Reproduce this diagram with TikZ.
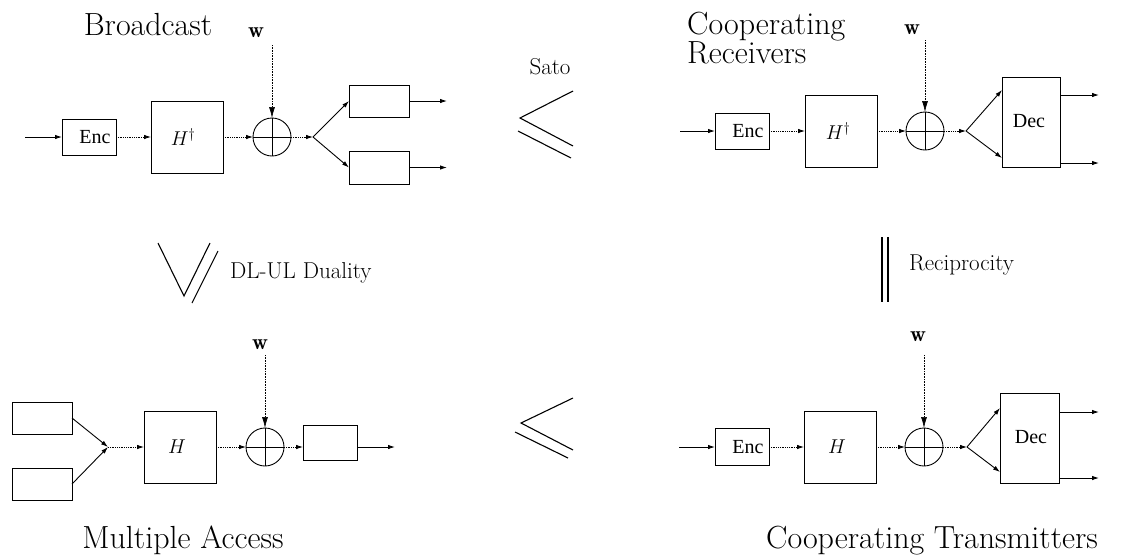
\RequirePackage{fix-cm}
\documentclass[tikz,border=0pt]{standalone}
\usepackage{fontspec}
\newfontfamily\timesf{Liberation Serif}
\usetikzlibrary{arrows.meta}
\begin{document}
\begin{tikzpicture}[x=1pt,y=-1pt,
  blk/.style={draw, line width=0.9pt, inner sep=0pt, outer sep=0pt},
  sumc/.style={draw, circle, line width=0.9pt, minimum size=38pt, inner sep=0pt, outer sep=0pt},
  sarr/.style={line width=0.9pt, -{Latex[length=7pt,width=4.5pt]}},
  darr/.style={line width=0.8pt, densely dotted, -{Latex[length=7pt,width=4.5pt]}},
  warr/.style={line width=0.6pt, densely dotted, -{Latex[length=11pt,width=6pt]}},
  title/.style={font=\fontsize{32}{26}\selectfont, inner sep=0pt},
  small/.style={font=\fontsize{23}{26}\selectfont, inner sep=0pt},
  wlab/.style={font=\fontsize{22}{24}\selectfont, inner sep=0pt},
  blab/.style={font=\timesf\fontsize{20}{22}\selectfont, inner sep=0pt},
  hlab/.style={font=\fontsize{20}{22}\selectfont, inner sep=0pt},
  rel/.style={line width=1.1pt}
]
\fill[white] (0,0) rectangle (1126,558);
\useasboundingbox (0,0) rectangle (1126,558);

% ---------------- Broadcast (top left)
\node[title, anchor=base] (tBC) at (148,35) {Broadcast};
\node[wlab] (w1) at (256,33) {$\mathbf{w}$};
\coordinate (w1s) at (272,45);
\coordinate (i1) at (25,137);
\node[blk, minimum width=54pt, minimum height=36pt] (e1) at (89,137) {};
\node[blab] (e1t) at (95,137) {Enc};
\node[blk, minimum width=72pt, minimum height=72pt] (h1) at (187,137) {};
\node[hlab] (h1t) at (183,137) {$H^{\dagger}$};
\node[sumc] (s1) at (272,137) {};
\draw[line width=0.8pt] (s1.north) -- (s1.south) (s1.west) -- (s1.east);
\coordinate (j1) at (313,137);
\node[blk, minimum width=60pt, minimum height=32pt] (r1a) at (379,101) {};
\node[blk, minimum width=60pt, minimum height=33pt] (r1b) at (379,167.5) {};
\coordinate (o1a) at (447,101);
\coordinate (o1b) at (447,167.5);
\draw[sarr] (i1) -- (e1.west);
\draw[darr] (e1.east) -- (h1.west);
\draw[darr] (h1.east) -- (s1.west);
\draw[warr] (w1s) -- (s1.north);
\draw[darr] (s1.east) -- (j1);
\draw[sarr] (j1) -- (r1a.west);
\draw[sarr] (j1) -- (r1b.west);
\draw[sarr] (r1a.east) -- (o1a);
\draw[sarr] (r1b.east) -- (o1b);

% ---------------- Sato relation
\node[small, anchor=base] (sato) at (550,74) {Sato};
\coordinate (sa1) at (573,91);
\coordinate (sa2) at (520,118);
\coordinate (sa3) at (573,146);
\coordinate (sa4) at (518,131);
\coordinate (sa5) at (571,158);
\draw[rel] (sa1) -- (sa2) -- (sa3);
\draw[rel] (sa4) -- (sa5);

% ---------------- Cooperating Receivers (top right)
\node[title, anchor=north west, align=left] (tCR) at (687,11.5) {Cooperating\\Receivers};
\node[wlab] (w2) at (912,30) {$\mathbf{w}$};
\coordinate (w2s) at (925,40);
\coordinate (i2) at (680,131);
\node[blk, minimum width=54pt, minimum height=36pt] (e2) at (742,131) {};
\node[blab] (e2t) at (748,131) {Enc};
\node[blk, minimum width=72pt, minimum height=72pt] (h2) at (841,131) {};
\node[hlab] (h2t) at (838,131) {$H^{\dagger}$};
\node[sumc] (s2) at (925,131) {};
\draw[line width=0.8pt] (s2.north) -- (s2.south) (s2.west) -- (s2.east);
\coordinate (j2) at (966,131);
\node[blk, minimum width=58pt, minimum height=90pt] (d2) at (1031,122) {};
\node[blab] (d2t) at (1029,121) {Dec};
\coordinate (o2a) at (1099,95);
\coordinate (o2b) at (1099,163);
\draw[sarr] (i2) -- (e2.west);
\draw[darr] (e2.east) -- (h2.west);
\draw[darr] (h2.east) -- (s2.west);
\draw[warr] (w2s) -- (s2.north);
\draw[darr] (s2.east) -- (j2);
\draw[sarr] (j2) -- ([yshift=32pt]d2.west);
\draw[sarr] (j2) -- ([yshift=-36pt]d2.west);
\draw[sarr] (o2a -| d2.east) -- (o2a);
\draw[sarr] (o2b -| d2.east) -- (o2b);

% ---------------- DL-UL Duality relation
\coordinate (du1) at (158,243);
\coordinate (du2) at (184,296);
\coordinate (du3) at (210,243);
\coordinate (du4) at (218,251);
\coordinate (du5) at (192,303);
\draw[rel] (du1) -- (du2) -- (du3);
\draw[rel] (du4) -- (du5);
\node[small, anchor=base west] (dul) at (230,278) {DL-UL Duality};

% ---------------- Reciprocity relation
\coordinate (rc1) at (882,237);
\coordinate (rc2) at (882,302);
\coordinate (rc3) at (888,237);
\coordinate (rc4) at (888,302);
\draw[rel] (rc1) -- (rc2);
\draw[rel] (rc3) -- (rc4);
\node[small, anchor=base west] (rcl) at (909,270) {Reciprocity};

% ---------------- Multiple Access (bottom left)
\node[title, anchor=base] (tMA) at (183,548) {Multiple Access};
\node[wlab] (w4) at (260,345) {$\mathbf{w}$};
\coordinate (w4s) at (265,355);
\node[blk, minimum width=60pt, minimum height=32pt] (l4a) at (42,418) {};
\node[blk, minimum width=60pt, minimum height=32pt] (l4b) at (42,484) {};
\coordinate (j4) at (108,447);
\node[blk, minimum width=72pt, minimum height=72pt] (h4) at (180,447) {};
\node[hlab] (h4t) at (177,447) {$H$};
\node[sumc] (s4) at (265,447) {};
\draw[line width=0.8pt] (s4.north) -- (s4.south) (s4.west) -- (s4.east);
\node[blk, minimum width=54pt, minimum height=35pt] (o4) at (330,442.5) {};
\coordinate (o4e) at (395,447);
\draw[sarr] (l4a.east) -- (j4);
\draw[sarr] (l4b.east) -- (j4);
\draw[darr] (j4) -- (h4.west);
\draw[darr] (h4.east) -- (s4.west);
\draw[warr] (w4s) -- (s4.north);
\draw[darr] (s4.east) -- (s4.east -| o4.west);
\draw[sarr] (o4e -| o4.east) -- (o4e);

% ---------------- relation between MA and CT
\coordinate (mt1) at (573,398);
\coordinate (mt2) at (521,423);
\coordinate (mt3) at (573,450);
\coordinate (mt4) at (515,432);
\coordinate (mt5) at (568,458);
\draw[rel] (mt1) -- (mt2) -- (mt3);
\draw[rel] (mt4) -- (mt5);

% ---------------- Cooperating Transmitters (bottom right)
\node[title, anchor=base] (tCT) at (932,548) {Cooperating Transmitters};
\node[wlab] (w3) at (918,337) {$\mathbf{w}$};
\coordinate (w3s) at (924,355);
\coordinate (i3) at (679,447);
\node[blk, minimum width=54pt, minimum height=37pt] (e3) at (742,447) {};
\node[blab] (e3t) at (748,447) {Enc};
\node[blk, minimum width=72pt, minimum height=72pt] (h3) at (840,447) {};
\node[hlab] (h3t) at (837,447) {$H$};
\node[sumc] (s3) at (924,447) {};
\draw[line width=0.8pt] (s3.north) -- (s3.south) (s3.west) -- (s3.east);
\coordinate (j3) at (967,447);
\node[blk, minimum width=59pt, minimum height=90pt] (d3) at (1029.5,438) {};
\node[blab] (d3t) at (1031,437) {Dec};
\coordinate (o3a) at (1099,412);
\coordinate (o3b) at (1099,478);
\draw[sarr] (i3) -- (e3.west);
\draw[darr] (e3.east) -- (h3.west);
\draw[darr] (h3.east) -- (s3.west);
\draw[warr] (w3s) -- (s3.north);
\draw[darr] (s3.east) -- (j3);
\draw[sarr] (j3) -- ([yshift=30pt]d3.west);
\draw[sarr] (j3) -- ([yshift=-34pt]d3.west);
\draw[sarr] (o3a -| d3.east) -- (o3a);
\draw[sarr] (o3b -| d3.east) -- (o3b);
\end{tikzpicture}
\end{document}
